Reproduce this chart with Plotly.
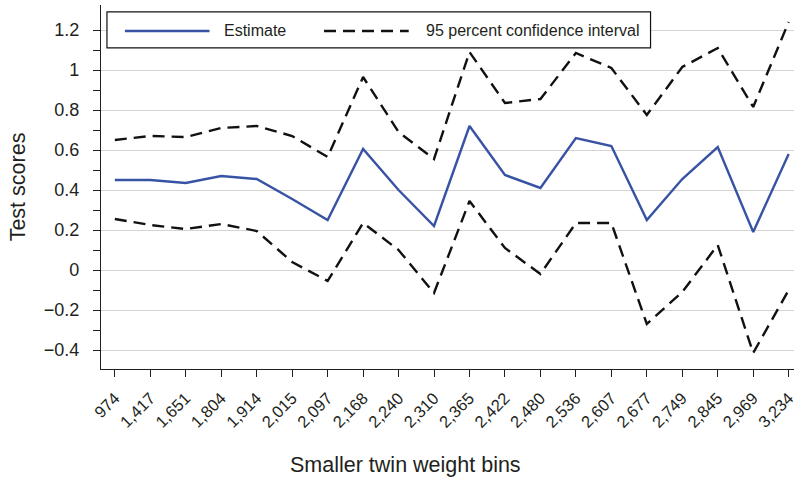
import plotly.graph_objects as go

bins = ["974", "1,417", "1,651", "1,804", "1,914", "2,015", "2,097", "2,168", "2,240", "2,310",
        "2,365", "2,422", "2,480", "2,536", "2,607", "2,677", "2,749", "2,845", "2,969", "3,234"]
estimate = [0.45, 0.45, 0.435, 0.47, 0.455, 0.355, 0.25, 0.605, 0.40, 0.22,
            0.72, 0.475, 0.41, 0.66, 0.62, 0.25, 0.455, 0.615, 0.19, 0.58]
ci_upper = [0.65, 0.67, 0.665, 0.71, 0.72, 0.67, 0.565, 0.965, 0.69, 0.555,
            1.09, 0.835, 0.855, 1.085, 1.01, 0.775, 1.015, 1.11, 0.815, 1.24]
ci_lower = [0.255, 0.225, 0.205, 0.23, 0.195, 0.04, -0.055, 0.235, 0.10, -0.115,
            0.345, 0.11, -0.02, 0.235, 0.235, -0.27, -0.11, 0.125, -0.415, -0.10]
legend_labels = ["Estimate", "95 percent confidence interval"]

idx = list(range(len(bins)))
BLUE = "#3953a4"
DARK = "#111111"
TXT = "#231f20"
FONT = "Liberation Sans, Arial, sans-serif"
DASH = "12px,7px"

fig = go.Figure()
fig.add_trace(go.Scatter(x=idx, y=estimate, mode="lines", name=legend_labels[0], showlegend=False,
                         line=dict(color=BLUE, width=2.4)))
fig.add_trace(go.Scatter(x=idx, y=ci_upper, mode="lines", name=legend_labels[1], showlegend=False,
                         line=dict(color=DARK, width=2.4, dash=DASH)))
fig.add_trace(go.Scatter(x=idx, y=ci_lower, mode="lines", showlegend=False,
                         line=dict(color=DARK, width=2.4, dash=DASH)))

# Legend drawn as a framed box (paper coordinates)
ly = 0.9286
fig.add_shape(type="rect", xref="paper", yref="paper", x0=0.0086, x1=0.793, y0=0.882, y1=0.981,
              line=dict(color=DARK, width=1.2), fillcolor="white", layer="above")
fig.add_shape(type="line", xref="paper", yref="paper", x0=0.0345, x1=0.1566, y0=ly, y1=ly,
              line=dict(color=BLUE, width=2.4), layer="above")
fig.add_shape(type="line", xref="paper", yref="paper", x0=0.3218, x1=0.444, y0=ly, y1=ly,
              line=dict(color=DARK, width=2.4, dash=DASH), layer="above")
fig.add_annotation(xref="paper", yref="paper", x=0.1739, y=ly, text=legend_labels[0],
                   showarrow=False, xanchor="left", yanchor="middle",
                   font=dict(size=16, color=TXT, family=FONT))
fig.add_annotation(xref="paper", yref="paper", x=0.4655, y=ly, text=legend_labels[1],
                   showarrow=False, xanchor="left", yanchor="middle",
                   font=dict(size=16, color=TXT, family=FONT))

# x-axis title
fig.add_annotation(xref="paper", yref="paper", x=0.44, y=-0.264, text="Smaller twin weight bins",
                   showarrow=False, xanchor="center", yanchor="middle",
                   font=dict(size=21.5, color=TXT, family=FONT))

fig.update_layout(
    width=797, height=479,
    margin=dict(l=101, r=0, t=5, b=110),
    paper_bgcolor="white", plot_bgcolor="white",
    font=dict(family=FONT, color=TXT),
    showlegend=False,
    xaxis=dict(
        tickmode="array", tickvals=idx, ticktext=bins, tickangle=-45,
        range=[-0.39, 19.15], showgrid=False, zeroline=False,
        showline=True, linecolor=TXT, linewidth=1.2,
        ticks="outside", ticklen=7, tickcolor=TXT, tickwidth=1.2,
        tickfont=dict(size=16.5, color=TXT), ticklabeloverflow="allow", ticklabelstandoff=5,
    ),
    yaxis=dict(
        range=[-0.495, 1.325], tickmode="array",
        tickvals=[-0.4, -0.2, 0, 0.2, 0.4, 0.6, 0.8, 1, 1.2],
        ticktext=["\u22120.4", "\u22120.2", "0", "0.2", "0.4", "0.6", "0.8", "1", "1.2"],
        showgrid=True, gridcolor="#d4d4d4", gridwidth=1.3, zeroline=False,
        showline=True, linecolor=TXT, linewidth=1.2,
        ticks="outside", ticklen=7, tickcolor=TXT, tickwidth=1.2,
        minor=dict(tickmode="array", tickvals=[-0.3, -0.1, 0.1, 0.3, 0.5, 0.7, 0.9, 1.1],
                   ticks="outside", ticklen=7, tickcolor=TXT, tickwidth=1.2, showgrid=False),
        tickfont=dict(size=18, color=TXT), ticklabelstandoff=10,
        title=dict(text="Test scores", font=dict(size=21.5, color=TXT), standoff=12),
    ),
)

fig.write_html("out.html")
